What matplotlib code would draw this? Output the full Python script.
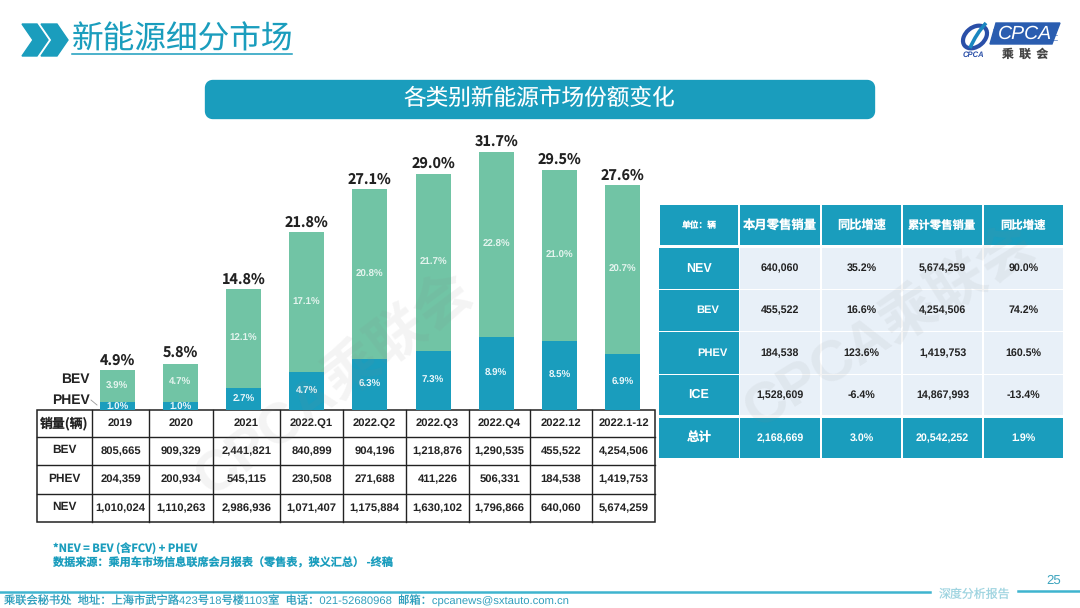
# new energy market share slide
import matplotlib
matplotlib.use('Agg')
import matplotlib.pyplot as plt
from matplotlib.patches import FancyBboxPatch, Polygon, Rectangle, Ellipse, PathPatch
from matplotlib.path import Path

plt.rcParams['font.family'] = ['Liberation Sans', 'Noto Sans CJK SC', 'DejaVu Sans']
plt.rcParams['text.hinting'] = 'none'

periods = ['2019', '2020', '2021', '2022.Q1', '2022.Q2', '2022.Q3', '2022.Q4', '2022.12', '2022.1-12']
phev_share = [1.0, 1.0, 2.7, 4.7, 6.3, 7.3, 8.9, 8.5, 6.9]
bev_share = [3.9, 4.7, 12.1, 17.1, 20.8, 21.7, 22.8, 21.0, 20.7]
nev_share = [4.9, 5.8, 14.8, 21.8, 27.1, 29.0, 31.7, 29.5, 27.6]

bev_sales = ['805,665', '909,329', '2,441,821', '840,899', '904,196', '1,218,876', '1,290,535', '455,522', '4,254,506']
phev_sales = ['204,359', '200,934', '545,115', '230,508', '271,688', '411,226', '506,331', '184,538', '1,419,753']
nev_sales = ['1,010,024', '1,110,263', '2,986,936', '1,071,407', '1,175,884', '1,630,102', '1,796,866', '640,060', '5,674,259']

right_header = ['单位：辆', '本月零售销量', '同比增速', '累计零售销量', '同比增速']
right_names = ['NEV', 'BEV', 'PHEV', 'ICE', '总计']
right_month = ['640,060', '455,522', '184,538', '1,528,609', '2,168,669']
right_month_yoy = ['35.2%', '16.6%', '123.6%', '-6.4%', '3.0%']
right_total = ['5,674,259', '4,254,506', '1,419,753', '14,867,993', '20,542,252']
right_total_yoy = ['90.0%', '74.2%', '160.5%', '-13.4%', '1.9%']

TEAL = '#1a9dbd'
GREEN = '#71c4a5'
LIGHT = '#e8f0f8'
CJK = ['Noto Sans CJK SC', 'DejaVu Sans']
LATIN_CJK = ['Liberation Sans', 'Noto Sans CJK SC']

W, H = 1080, 608
fig = plt.figure(figsize=(W / 100, H / 100), dpi=100, facecolor='white')

# page layer in pixel coords
page = fig.add_axes([0, 0, 1, 1])
page.set_xlim(0, W)
page.set_ylim(H, 0)
page.axis('off')

# stacked bars: y axis runs 8.15 px per percent up from y=410
bar_ax = fig.add_axes([85.5 / W, (H - 410) / H, 570 / W, 280 / H])
bar_ax.patch.set_alpha(0)
bar_ax.set_xlim(-0.5, 8.5 + 0.02)
bar_ax.set_ylim(0, 280 / 8.15)
bar_ax.axis('off')
x = list(range(len(periods)))
bar_ax.bar(x, phev_share, width=0.555, color=TEAL)
bar_ax.bar(x, bev_share, width=0.555, bottom=phev_share, color=GREEN)
for i in x:
    bar_ax.text(i, phev_share[i] / 2 - (0.15 if phev_share[i] < 2 else 0), f'{phev_share[i]:.1f}%', ha='center', va='center',
                color='#e9f6fa', fontsize=7, fontweight='bold')
    bar_ax.text(i, phev_share[i] + bev_share[i] / 2, f'{bev_share[i]:.1f}%', ha='center', va='center',
                color='#e4f4ee', fontsize=7, fontweight='bold')
    bar_ax.text(i, nev_share[i] + 0.3, f'{nev_share[i]:.1f}%', ha='center', va='bottom',
                color='#222222', fontsize=10.3, fontweight='bold', family=CJK)

# title
page.add_patch(Polygon([(22, 24), (37, 24), (48, 40), (37, 56), (22, 56), (33, 40)], color=TEAL))
page.add_patch(Polygon([(41, 24), (57, 24), (68, 40), (57, 56), (41, 56), (52, 40)], color=TEAL))
page.text(72, 39.5, '新能源细分市场', color=TEAL, fontsize=22.8, family=CJK, fontweight='light', ha='left', va='center')
page.plot([72, 292], [54, 54], color=TEAL, lw=1.1)

# banner
page.add_patch(FancyBboxPatch((209, 84), 662, 31, boxstyle='round,pad=0,rounding_size=4', mutation_aspect=1,
                              fc=TEAL, ec=TEAL, lw=6, joinstyle='round'))
page.text(539, 99, '各类别新能源市场份额变化', color='white', fontsize=16.3, family=CJK, ha='center', va='center')

# logo
page.add_patch(Polygon([(996, 23), (1060, 23), (1052, 44), (990, 44)], color='#2a5db0'))
page.text(1025, 33.5, 'CPCA', color='white', fontsize=14, style='italic', ha='center', va='center')
for yy in (29, 35, 40):
    page.plot([993, 1057], [yy, yy], color='#2a5db0', lw=0.5, alpha=0.8)
page.text(1025, 54, '乘  联  会', color='#444444', fontsize=8.5, family=CJK, ha='center', va='center', fontweight='bold')
page.add_patch(Ellipse((975, 37), 27, 19, angle=-40, fc='none', ec='#2a4fa8', lw=3))
page.add_patch(PathPatch(Path([(986, 23), (976, 34), (970, 48)], [Path.MOVETO, Path.CURVE3, Path.CURVE3]),
                         fc='none', ec='#1a86c0', lw=2.6))
page.text(973, 55, 'CPCA', color='#2a4fa8', fontsize=5.5, style='italic', fontweight='bold', ha='center', va='center')

# series names left of the first bar
page.text(90, 379, 'BEV', fontsize=10, fontweight='bold', ha='right', va='center', color='#222222')
page.text(90, 400, 'PHEV', fontsize=10, fontweight='bold', ha='right', va='center', color='#222222')
page.plot([91, 97], [400, 405], color='#999999', lw=0.6)

# left table
left_cols = [37, 92, 149, 213, 280, 343, 406, 469, 530, 592, 655]
left_rows = [410, 437, 465, 494, 522]
left_names = ['BEV', 'PHEV', 'NEV']
left_data = [bev_sales, phev_sales, nev_sales]
page.add_patch(Rectangle((37, 410), 618, 112, fc='white', ec='#222222', lw=1.1, zorder=3))
for c in left_cols[1:-1]:
    page.plot([c, c], [410, 522], color='#222222', lw=1.0, zorder=4)
for r in left_rows[1:-1]:
    page.plot([37, 655], [r, r], color='#222222', lw=1.0, zorder=4)
page.text(64.5, 423.5, '销量(辆)', fontsize=9.3, fontweight='bold', family=CJK, ha='center', va='center', zorder=5, color='#222222')
for j, p in enumerate(periods):
    page.text((left_cols[j + 1] + left_cols[j + 2]) / 2, 423, p, fontsize=8.1, fontweight='bold', ha='center', va='center', zorder=5, color='#222222')
for i, name in enumerate(left_names):
    cy = (left_rows[i + 1] + left_rows[i + 2]) / 2
    page.text(64.5, cy - 1, name, fontsize=8.6, fontweight='bold', ha='center', va='center', zorder=5, color='#222222')
    for j, v in enumerate(left_data[i]):
        page.text((left_cols[j + 1] + left_cols[j + 2]) / 2, cy, v, fontsize=8.1, fontweight='bold', ha='center', va='center', zorder=5, color='#222222')

# right table
right_cols = [659, 739, 821, 902, 983, 1064]
right_tops = [205, 248, 290, 332, 375, 418]
right_bots = [245, 289, 331, 374, 415, 458]
right_data = [right_month, right_month_yoy, right_total, right_total_yoy]
name_x = [699, 708, 712, 699, 699]
gap = 0.6
for j in range(5):
    page.add_patch(Rectangle((right_cols[j] + gap, 205), right_cols[j + 1] - right_cols[j] - 2 * gap, 40, fc=TEAL, ec='none', zorder=3))
    fs = [6.3, 8.9, 8.8, 8.2, 8.2][j]
    page.text((right_cols[j] + right_cols[j + 1]) / 2, 225.5, right_header[j], color='white', fontsize=fs, fontweight='bold',
              family=CJK, ha='center', va='center', zorder=5)
for i, name in enumerate(right_names):
    t, b = right_tops[i + 1], right_bots[i + 1]
    total_row = i == 4
    page.add_patch(Rectangle((659, t), 80, b - t, fc=TEAL, ec='none', zorder=3))
    page.text(name_x[i], (t + b) / 2, name, color='white', fontsize=9 if i in (0, 3, 4) else 8, fontweight='bold',
              ha='center', va='center', zorder=5, family=LATIN_CJK)
    for j in range(4):
        page.add_patch(Rectangle((right_cols[j + 1] + gap, t), right_cols[j + 2] - right_cols[j + 1] - 2 * gap, b - t,
                                 fc=TEAL if total_row else LIGHT, ec='none', zorder=3))
        page.text((right_cols[j + 1] + right_cols[j + 2]) / 2, (t + b) / 2, right_data[j][i],
                  color='white' if total_row else '#222222', fontsize=7.7, fontweight='bold', ha='center', va='center', zorder=5)

# watermarks over everything
page2 = fig.add_axes([0, 0, 1, 1])
page2.set_xlim(0, W)
page2.set_ylim(H, 0)
page2.axis('off')
page2.patch.set_alpha(0)
page2.text(335, 385, 'CPCA乘联会', fontsize=41, rotation=37, color='#888888', alpha=0.09, fontweight='bold', family=LATIN_CJK, ha='center', va='center')
page2.text(890, 328, 'CPCA乘联会', fontsize=41, rotation=32, color='#888888', alpha=0.09, fontweight='bold', family=LATIN_CJK, ha='center', va='center')

# notes and footer
page.text(53, 549, '*NEV = BEV (含FCV) + PHEV', color=TEAL, fontsize=8, fontweight='bold', family=CJK, ha='left', va='center')
page.text(53, 563, '数据来源：乘用车市场信息联席会月报表（零售表，狭义汇总） -终稿', color=TEAL, fontsize=8, fontweight='bold', family=CJK, ha='left', va='center')
page.plot([0, 930], [592, 592], color='#3fb4cf', lw=1.8)
page.plot([1018, 1080], [591, 591], color='#3fb4cf', lw=1.8)
page.text(4, 601, '乘联会秘书处  地址：上海市武宁路423号18号楼1103室  电话：021-52680968  邮箱：cpcanews@sxtauto.com.cn',
          color='#2f9fbd', fontsize=8.1, family=LATIN_CJK, ha='left', va='center')
page.text(1054, 581, '25', color='#3fa5bf', fontsize=9.5, ha='center', va='center')
page.text(975, 594, '深度分析报告', color='#9fd4e0', fontsize=8.6, family=CJK, ha='center', va='center')

fig.savefig('out.png', dpi=100)
